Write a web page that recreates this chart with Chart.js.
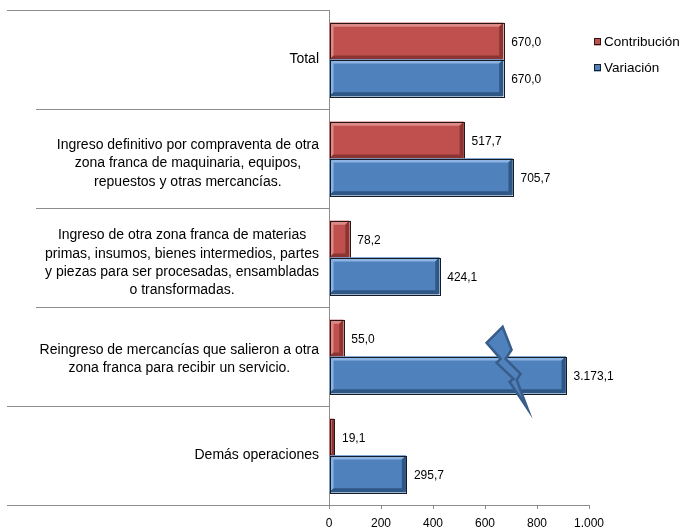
<!DOCTYPE html>
<html>
<head>
<meta charset="utf-8">
<script src="https://cdn.jsdelivr.net/npm/chart.js@4.4.0/dist/chart.umd.min.js"></script>
<style>
  html, body { margin: 0; padding: 0; background: #fff; }
  #wrap { width: 683px; height: 529px; }
</style>
</head>
<body>
<div id="wrap"><canvas id="barChart" width="683" height="529"></canvas></div>
<script>
var categories = [
  ['Total'],
  ['Ingreso definitivo por compraventa de otra', 'zona franca de maquinaria, equipos,', 'repuestos y otras mercancías.'],
  ['Ingreso de otra zona franca de materias', 'primas, insumos, bienes intermedios, partes', 'y piezas para ser procesadas, ensambladas', 'o transformadas.'],
  ['Reingreso de mercancías que salieron a otra', 'zona franca para recibir un servicio.'],
  ['Demás operaciones']
];
var contribucion = [670.0, 517.7, 78.2, 55.0, 19.1];
var variacion = [670.0, 705.7, 424.1, 3173.1, 295.7];
var seriesNames = ['Contribución', 'Variación'];
var xTicks = [0, 200, 400, 600, 800, 1000];
var axisBreak = 910; // longer bars are cut here and get a bolt

var FONT = '"Liberation Sans", Arial, sans-serif';
var GREY = '#8c8c8c';
var colors = [
  { fill: '#C0504D', light: '#DC8A87', dark: '#8A3533', edge: '#2a1515' },
  { fill: '#4F81BD', light: '#8DB3E2', dark: '#2F5785', edge: '#141c28' }
];

function fmt(v, dec) {
  var parts = v.toFixed(dec).split('.');
  parts[0] = parts[0].replace(/\B(?=(\d{3})+(?!\d))/g, '.');
  return parts.join(',');
}

function cap(v) {
  return Math.min(v, axisBreak);
}

// category separators that run through the label area
var separatorPlugin = {
  id: 'separators',
  afterDraw: function (chart) {
    var c = chart.ctx, ys = chart.scales.y, xs = chart.scales.x;
    var starts = [7, 36, 36, 36, 7, 7];
    c.save();
    c.strokeStyle = GREY;
    c.lineWidth = 1;
    for (var i = 0; i <= categories.length; i++) {
      var y = Math.round(ys.getPixelForValue(i - 0.5)) + 0.5;
      c.beginPath();
      c.moveTo(starts[i], y);
      c.lineTo(xs.left, y);
      c.stroke();
    }
    c.beginPath();
    c.moveTo(Math.round(xs.left) + 0.5, ys.bottom);
    c.lineTo(Math.round(xs.left) + 0.5, ys.bottom + 4);
    c.stroke();
    c.restore();
  }
};

// wrapped category labels, lines centred inside a right-aligned block
var categoryLabelPlugin = {
  id: 'categoryLabels',
  afterDraw: function (chart) {
    var c = chart.ctx, ys = chart.scales.y;
    var lineH = 18.3;
    c.save();
    c.font = '14px ' + FONT;
    c.fillStyle = '#000';
    c.textAlign = 'center';
    c.textBaseline = 'middle';
    categories.forEach(function (lines, i) {
      var w = 0;
      lines.forEach(function (l) { w = Math.max(w, c.measureText(l).width); });
      var cx = ys.right - 10 - w / 2;
      var shift = Math.min((lines.length - 1) * 2.5, 5.5);
      var y0 = ys.getPixelForValue(i) - (lines.length - 1) * lineH / 2 + shift;
      lines.forEach(function (l, k) {
        c.fillText(l, cx, y0 + k * lineH);
      });
    });
    c.restore();
  }
};

// bevelled bars, bolt on the cut bar, value labels
var barDecorPlugin = {
  id: 'barDecor',
  afterDatasetsDraw: function (chart) {
    var c = chart.ctx;
    c.save();
    chart.data.datasets.forEach(function (ds, di) {
      var col = colors[di];
      chart.getDatasetMeta(di).data.forEach(function (bar, i) {
        var p = bar.getProps(['x', 'y', 'base', 'height'], true);
        var l = Math.min(p.base, p.x), r = Math.max(p.base, p.x);
        var t = p.y - p.height / 2, b = p.y + p.height / 2;
        var e = Math.min(4, (r - l) / 2);
        c.fillStyle = col.fill;
        c.fillRect(l, t, r - l, b - t);
        function quad(a, fill) {
          c.beginPath();
          c.moveTo(a[0], a[1]); c.lineTo(a[2], a[3]); c.lineTo(a[4], a[5]); c.lineTo(a[6], a[7]);
          c.closePath();
          c.fillStyle = fill;
          c.fill();
        }
        quad([l, t, r, t, r - e, t + e, l + e, t + e], col.light);
        quad([l, t, l + e, t + e, l + e, b - e, l, b], col.light);
        quad([l, b, l + e, b - e, r - e, b - e, r, b], col.dark);
        quad([r, t, r, b, r - e, b - e, r - e, t + e], col.dark);
        c.strokeStyle = col.edge;
        c.lineWidth = 1;
        c.strokeRect(Math.round(l) + 0.5, Math.round(t) + 0.5, Math.round(r - l), Math.round(b - t));

        var real = ds.realData[i];
        if (real > axisBreak) {
          var bx = p.x, by = p.y;
          var bolt = [[-63, -48], [-79, -32], [-65, -16], [-69, -12], [-52, 4], [-56, 7], [-38, 34],
                      [-49, 5], [-45, -1], [-60, -16], [-54, -25]];
          c.beginPath();
          bolt.forEach(function (pt, k) {
            if (k === 0) c.moveTo(bx + pt[0], by + pt[1]);
            else c.lineTo(bx + pt[0], by + pt[1]);
          });
          c.closePath();
          c.fillStyle = '#4F81BD';
          c.fill();
          c.strokeStyle = '#385D8A';
          c.lineWidth = 2.5;
          c.lineJoin = 'miter';
          c.stroke();
        }

        c.font = '12px ' + FONT;
        c.fillStyle = '#000';
        c.textAlign = 'left';
        c.textBaseline = 'middle';
        c.fillText(fmt(real, 1), r + 8, p.y + 2);
      });
    });
    c.restore();
  }
};

var legendPlugin = {
  id: 'sideLegend',
  afterDraw: function (chart) {
    var c = chart.ctx;
    c.save();
    c.font = '13.5px ' + FONT;
    c.textBaseline = 'middle';
    c.textAlign = 'left';
    seriesNames.forEach(function (name, i) {
      var y = 42 + i * 26;
      c.fillStyle = colors[i].fill;
      c.fillRect(594, y - 3.5, 7, 7);
      c.strokeStyle = colors[i].edge;
      c.lineWidth = 1;
      c.strokeRect(594.5, y - 3.5, 6, 6);
      c.fillStyle = '#000';
      c.fillText(name, 604, y);
    });
    c.restore();
  }
};

var ctx = document.getElementById('barChart');
var barChart = new Chart(ctx, {
  type: 'bar',
  data: {
    labels: categories,
    datasets: [{
      label: seriesNames[0],
      data: contribucion.map(cap),
      realData: contribucion,
      backgroundColor: colors[0].fill,
      borderWidth: 0,
      categoryPercentage: 0.74,
      barPercentage: 1
    }, {
      label: seriesNames[1],
      data: variacion.map(cap),
      realData: variacion,
      backgroundColor: colors[1].fill,
      borderWidth: 0,
      categoryPercentage: 0.74,
      barPercentage: 1
    }]
  },
  options: {
    indexAxis: 'y',
    responsive: false,
    animation: false,
    layout: { padding: { top: 10, right: 94, left: 7, bottom: 0 } },
    plugins: {
      legend: { display: false },
      tooltip: { enabled: false }
    },
    scales: {
      x: {
        min: 0,
        max: 1000,
        afterBuildTicks: function (s) {
          s.ticks = xTicks.map(function (v) { return { value: v }; });
        },
        afterFit: function (s) { s.height = 24; },
        ticks: {
          font: { size: 12, family: FONT },
          color: '#000',
          padding: 7,
          maxRotation: 0,
          callback: function (v) { return fmt(v, 0); }
        },
        grid: { drawOnChartArea: false, tickLength: 4, color: GREY },
        border: { color: GREY }
      },
      y: {
        afterFit: function (s) { s.width = 322; },
        ticks: { display: false },
        grid: { display: false },
        border: { color: GREY }
      }
    }
  },
  plugins: [separatorPlugin, categoryLabelPlugin, barDecorPlugin, legendPlugin]
});
</script>
</body>
</html>
